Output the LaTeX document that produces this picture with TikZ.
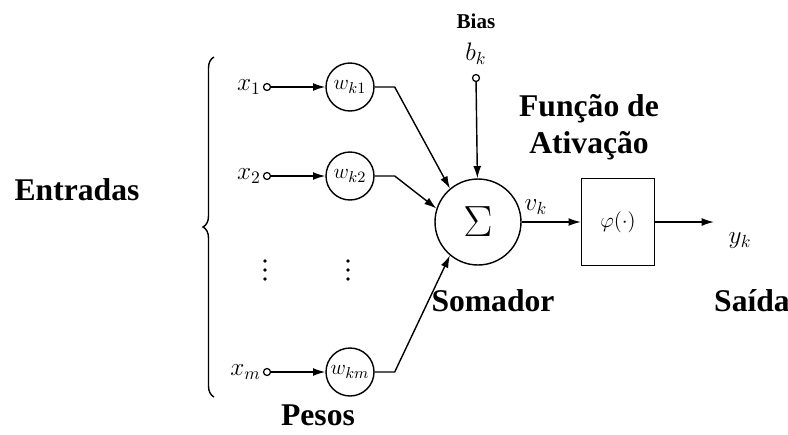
\documentclass[tikz,border=0pt]{standalone}
\usepackage{fontspec}
\setmainfont{Liberation Serif}
\usepackage{tikz}
\usetikzlibrary{arrows.meta, positioning, decorations.pathreplacing}

\begin{document}
\begin{tikzpicture}[x=0.02cm, y=-0.02cm,
    inport/.style={circle, draw, line width=0.7pt, inner sep=0pt, minimum size=0.14cm},
    wcirc/.style={circle, draw, line width=0.8pt, inner sep=0pt, minimum size=0.96cm, font=\fontsize{13}{15}\selectfont},
    sumcirc/.style={circle, draw, line width=0.8pt, inner sep=0pt, minimum size=1.72cm, font=\fontsize{24}{28}\selectfont},
    actbox/.style={draw, line width=0.8pt, minimum width=1.46cm, minimum height=1.74cm, font=\fontsize{13}{15}\selectfont},
    mathlbl/.style={inner sep=1pt, font=\fontsize{14}{16}\selectfont},
    boldlbl/.style={inner sep=0pt, font=\fontsize{18}{21}\selectfont\bfseries},
    conn/.style={line width=0.8pt, -{Latex[length=7pt,width=4.5pt]}}
]
    \useasboundingbox (0,0) rectangle (788,434);

    % inputs and weights
    \node[inport] (x1) at (267,87) {};
    \node[inport] (x2) at (267,176) {};
    \node[inport] (xm) at (267,372) {};
    \node[mathlbl, left=0pt of x1] (x1lbl) {$x_1$};
    \node[mathlbl, left=0pt of x2] (x2lbl) {$x_2$};
    \node[mathlbl, left=0pt of xm] (xmlbl) {$x_m$};
    \node[wcirc] (wk1) at (350,87) {$w_{k1}$};
    \node[wcirc] (wk2) at (350,176) {$w_{k2}$};
    \node[wcirc] (wkm) at (350,372) {$w_{km}$};
    \foreach \xx in {265,348}
        \foreach \yy in {261,270,279}
            \fill (\xx,\yy) circle (1.1pt);

    % summing junction and activation
    \node[sumcirc] (sum) at (478,222) {$\Sigma$};
    \node[inport] (bk) at (476,78) {};
    \node[mathlbl] (bklbl) at (476,54) {$b_k$};
    \node[inner sep=0pt, font=\fontsize{12}{14}\selectfont\bfseries] (bias) at (476,21) {Bias};
    \node[actbox] (phi) at (618,222) {$\varphi(\cdot)$};
    \coordinate (yout) at (714,222);
    \node[mathlbl] (vk) at (536,207) {$v_k$};
    \node[mathlbl] (yk) at (740,241) {$y_k$};

    \draw[conn] (x1) -- (wk1);
    \draw[conn] (x2) -- (wk2);
    \draw[conn] (xm) -- (wkm);
    \draw[conn] (wk1.east) -- ++(20,0) -- (sum.130);
    \draw[conn] (wk2.east) -- ++(20,0) -- (sum.162);
    \draw[conn] (wkm.east) -- ++(20,0) -- (sum.230);
    \draw[conn] (bk) -- (sum);
    \draw[conn] (sum) -- (phi);
    \draw[conn] (phi) -- (yout);

    % brace and captions
    \draw[line width=0.8pt, decorate, decoration={brace, amplitude=0.22cm}] (214,397) -- (214,57);
    \node[boldlbl] (entradas) at (77,190) {Entradas};
    \node[boldlbl] (pesos) at (318,415) {Pesos};
    \node[boldlbl] (somador) at (493,301) {Somador};
    \node[boldlbl, align=center] (ativacao) at (589,127) {Função de\\Ativação};
    \node[boldlbl] (saida) at (752,301) {Saída};
\end{tikzpicture}
\end{document}
